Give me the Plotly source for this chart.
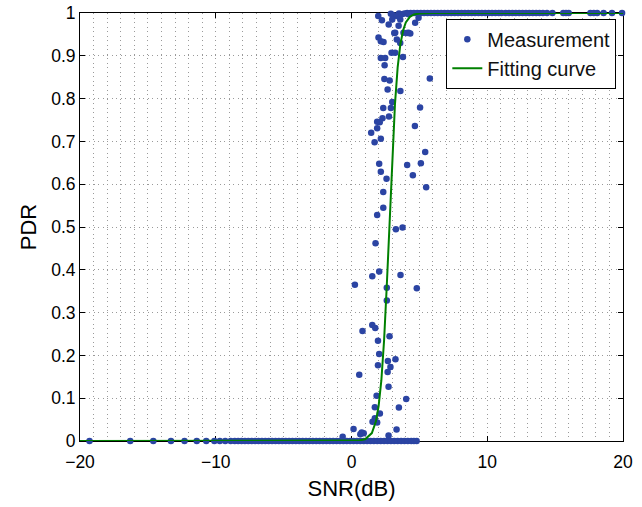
import plotly.graph_objects as go

meas_zero_x = [-19.3, -16.3, -14.6, -13.3, -12.3, -11.4, -10.7, -10.1, -9.7, -9.3, -8.9,
               -8.6, -8.35, -8.1, -7.85, -7.6, -7.35, -7.1, -6.85, -6.6, -6.35, -6.1, -5.85,
               -5.6, -5.35, -5.1, -4.85, -4.6, -4.35, -4.1, -3.85, -3.6, -3.35, -3.1, -2.85,
               -2.6, -2.35, -2.1, -1.85, -1.6, -1.35, -1.1, -0.85, -0.6, -0.35, -0.1, 0.15,
               0.4, 0.65, 0.9, 1.15, 1.4, 1.65, 1.9, 2.15, 2.4, 2.65, 2.9, 3.15, 3.4, 3.65,
               3.9, 4.15, 4.4, 4.6, 4.8]
meas_one_x = [4.1, 4.35, 4.6, 4.85, 5.1, 5.35, 5.6, 5.85, 6.1, 6.35, 6.6, 6.85, 7.1, 7.35,
              7.6, 7.85, 8.1, 8.35, 8.6, 8.85, 9.1, 9.35, 9.6, 9.85, 10.1, 10.35, 10.6,
              10.85, 11.05, 11.35, 11.6, 11.85, 12.1, 12.35, 12.6, 12.85, 13.1, 13.35, 13.6,
              13.85, 14.1, 14.4, 14.8, 15.6, 15.8, 16.0, 17.6, 17.85, 18.1, 18.57, 19.19,
              19.93]
meas_mid_x = [2.9, 3.1, 3.5, 3.9, 1.97, 2.24, 2.74, 3.34, 3.71, 3.59, 3.47, 3.22, 3.83, 4.2,
              3.34, 3.59, 4.69, 4.94, 4.2, 3.15, 4.08, 4.33, 3.0, 1.99, 2.16, 2.36, 2.95,
              3.22, 2.16, 2.48, 3.79, 2.44, 2.42, 2.81, 5.77, 2.66, 3.6, 3.0, 2.34, 2.9,
              5.05, 2.28, 2.76, 1.89, 2.08, 1.89, 1.45, 2.16, 1.7, 4.67, 5.43, 4.1, 5.11,
              2.04, 2.16, 4.52, 2.58, 5.5, 2.34, 2.34, 1.89, 3.27, 3.76, 1.77, 2.04, 1.53,
              3.61, 0.25, 2.6, 4.81, 2.6, 1.53, 1.75, 0.81, 2.8, 1.95, 2.04, 2.68, 3.24,
              1.95, 2.87, 2.66, 0.57, 2.73, 1.85, 4.03, 1.72, 3.49, 2.09, 1.72, 1.55, 1.89,
              3.32, 0.15, 0.9, 0.65, 0.75, -0.65, 2.73]
meas_mid_y = [0.998, 0.995, 0.999, 0.999, 0.993, 0.983, 0.973, 0.993, 0.997, 0.985, 0.970,
              0.954, 0.954, 0.954, 0.938, 0.930, 0.977, 0.989, 0.997, 0.953, 0.953, 0.952,
              0.985, 0.943, 0.934, 0.932, 0.907, 0.907, 0.895, 0.895, 0.897, 0.878, 0.846,
              0.842, 0.847, 0.821, 0.818, 0.792, 0.778, 0.778, 0.779, 0.754, 0.758, 0.746,
              0.745, 0.731, 0.720, 0.706, 0.698, 0.736, 0.675, 0.645, 0.649, 0.648, 0.629,
              0.621, 0.613, 0.593, 0.582, 0.545, 0.528, 0.495, 0.499, 0.462, 0.396, 0.385,
              0.388, 0.365, 0.358, 0.357, 0.328, 0.271, 0.264, 0.257, 0.245, 0.234, 0.203,
              0.187, 0.191, 0.177, 0.173, 0.161, 0.155, 0.127, 0.106, 0.098, 0.079, 0.078,
              0.064, 0.053, 0.045, 0.043, 0.027, 0.028, 0.018, 0.016, 0.020, 0.010, 0.013]

# ---- Fitting curve ----
fit_x = [-20, -5, 0, 0.5, 1.0, 1.5, 1.8, 2.0, 2.2, 2.4, 2.6, 2.8, 3.0, 3.2, 3.4, 3.6, 3.8,
         4.0, 4.3, 4.6, 5.0, 6.0, 8.0, 20]
fit_y = [0.0, 0.0, 0.0002, 0.0009, 0.004, 0.0185, 0.046, 0.082, 0.142, 0.235, 0.364, 0.515,
         0.664, 0.786, 0.873, 0.927, 0.959, 0.978, 0.991, 0.9965, 0.999, 1.0, 1.0, 1.0]

# ---- Tick labels ----
x_tickvals = [-20, -10, 0, 10, 20]
x_ticktext = ["\u221220", "\u221210", "0", "10", "20"]
y_tickvals = [0, 0.1, 0.2, 0.3, 0.4, 0.5, 0.6, 0.7, 0.8, 0.9, 1]
y_ticktext = ["0", "0.1", "0.2", "0.3", "0.4", "0.5", "0.6", "0.7", "0.8", "0.9", "1"]

all_x = meas_zero_x + meas_one_x + meas_mid_x
all_y = [0.0] * len(meas_zero_x) + [1.0] * len(meas_one_x) + meas_mid_y

FONT = "Liberation Sans, Arial, Helvetica, sans-serif"
BLUE = "#2B44A3"
GREEN = "#008000"
GRID = "#9a9a9a"
DASH = "1px,3.5px"

fig = go.Figure()
fig.add_trace(go.Scatter(x=all_x, y=all_y, mode="markers", name="Measurement",
                         marker=dict(color=BLUE, size=6.5, line=dict(width=0)),
                         cliponaxis=False))
fig.add_trace(go.Scatter(x=fit_x, y=fit_y, mode="lines", name="Fitting curve",
                         line=dict(color=GREEN, width=2), cliponaxis=False))

fig.update_layout(
    width=642, height=507,
    margin=dict(l=80, r=19, t=13, b=66, autoexpand=False),
    paper_bgcolor="white", plot_bgcolor="white",
    font=dict(family=FONT, color="black", size=17),
    showlegend=True,
    legend=dict(x=0.9877, y=0.9866, xanchor="right", yanchor="top",
                bgcolor="white", bordercolor="black", borderwidth=1,
                font=dict(family=FONT, size=20, color="#111"),
                tracegroupgap=0, itemwidth=30),
)
fig.update_xaxes(
    range=[-20, 20], tickvals=x_tickvals, ticktext=x_ticktext, automargin=False,
    ticks="inside", ticklen=5, tickwidth=1, tickcolor="black",
    showline=True, linecolor="black", linewidth=1, mirror="ticks",
    showgrid=True, gridcolor=GRID, gridwidth=1, griddash=DASH,
    minor=dict(dtick=1, showgrid=True, gridcolor=GRID, gridwidth=1, griddash=DASH, ticks=""),
    zeroline=False, layer="below traces", ticklabelstandoff=5,
    tickfont=dict(family=FONT, size=17.5, color="black"),
    title=dict(text="SNR(dB)", font=dict(family=FONT, size=22, color="black"), standoff=9),
)
fig.update_yaxes(
    range=[0, 1], tickvals=y_tickvals, ticktext=y_ticktext, automargin=False,
    ticks="inside", ticklen=5, tickwidth=1, tickcolor="black",
    showline=True, linecolor="black", linewidth=1, mirror="ticks",
    showgrid=True, gridcolor=GRID, gridwidth=1, griddash=DASH,
    zeroline=False, layer="below traces",
    tickfont=dict(family=FONT, size=17.5, color="black"),
    title=dict(text="PDR", font=dict(family=FONT, size=22, color="black"), standoff=8),
)

fig.write_html("out.html", config={"displayModeBar": False},
               post_script="document.body.style.margin='0';document.body.style.overflow='hidden';")
